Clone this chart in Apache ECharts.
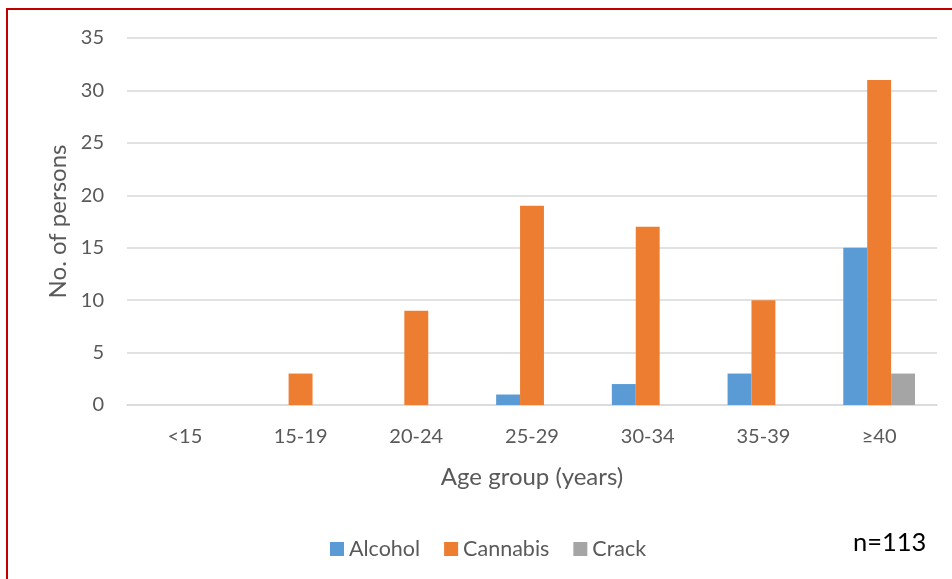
<!DOCTYPE html>
<html><head><meta charset="utf-8">
<script src="https://cdn.jsdelivr.net/npm/echarts@6/dist/echarts.min.js"></script>
<style>html,body{margin:0;padding:0;background:#fff}#c{width:952px;height:579px}</style>
</head><body><div id="c"></div>
<script>
const categories = ['<15','15-19','20-24','25-29','30-34','35-39','≥40'];
const alcohol = [0,0,0,1,2,3,15];
const cannabis = [0,3,9,19,17,10,31];
const crack = [0,0,0,0,0,0,3];
const yTicks = {min:0,max:35,interval:5};
const FONT = 'Lato, "Open Sans", sans-serif';
const chart = echarts.init(document.getElementById('c'));
chart.setOption({
  animation:false,
  textStyle:{fontFamily:FONT},
  graphic:[
    {type:'rect',shape:{x:7,y:9,width:1000,height:700},style:{fill:'none',stroke:'#c00000',lineWidth:2}},
    {type:'text',left:853,top:530,style:{text:'n=113',fontSize:25.5,fill:'#000',fontFamily:FONT}}
  ],
  grid:{left:127,right:15,top:38,bottom:174},
  legend:{top:533,left:325,itemWidth:14,itemHeight:14,itemGap:24,icon:'rect',
    textStyle:{fontSize:21.5,color:'#595959',fontFamily:FONT},data:['Alcohol','Cannabis','Crack']},
  xAxis:{type:'category',data:categories,
    axisLine:{lineStyle:{color:'#d9d9d9',width:1.5}},axisTick:{show:false},
    axisLabel:{fontSize:20,color:'#595959',margin:22},
    name:'Age group (years)',nameLocation:'middle',nameGap:60,
    nameTextStyle:{fontSize:24,color:'#595959'}},
  yAxis:{type:'value',min:yTicks.min,max:yTicks.max,interval:yTicks.interval,
    axisLine:{show:false},axisTick:{show:false},
    splitLine:{lineStyle:{color:'#d9d9d9',width:1.5}},
    axisLabel:{fontSize:20,color:'#595959',margin:23},
    name:'No. of persons',nameLocation:'middle',nameGap:55,
    nameTextStyle:{fontSize:24,color:'#595959'}},
  series:[
    {name:'Alcohol',type:'bar',data:alcohol,itemStyle:{color:'#5b9bd5'},barGap:'0%',barCategoryGap:'38%'},
    {name:'Cannabis',type:'bar',data:cannabis,itemStyle:{color:'#ed7d31'},barGap:'0%',barCategoryGap:'38%'},
    {name:'Crack',type:'bar',data:crack,itemStyle:{color:'#a5a5a5'},barGap:'0%',barCategoryGap:'38%'}
  ]
});
</script></body></html>
